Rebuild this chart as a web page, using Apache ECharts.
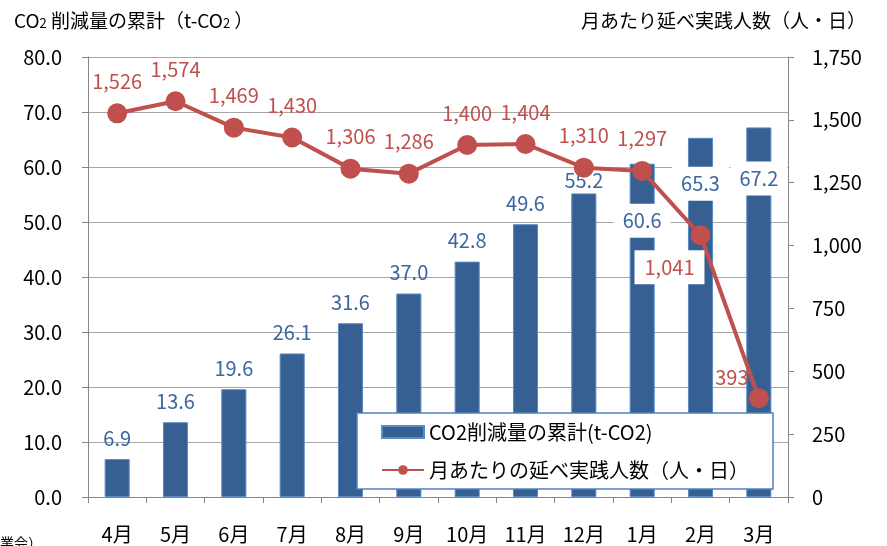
<!DOCTYPE html>
<html><head><meta charset="utf-8">
<script src="https://cdn.jsdelivr.net/npm/echarts@6/dist/echarts.min.js"></script>
<style>html,body{margin:0;padding:0;background:#fff}#c{width:887px;height:546px}</style>
</head><body><div id="c"></div>
<script>
const categories = ['4月','5月','6月','7月','8月','9月','10月','11月','12月','1月','2月','3月'];
const co2Cumulative = [6.9, 13.6, 19.6, 26.1, 31.6, 37.0, 42.8, 49.6, 55.2, 60.6, 65.3, 67.2];
const personDays = [1526, 1574, 1469, 1430, 1306, 1286, 1400, 1404, 1310, 1297, 1041, 393];
const leftTicks = [0, 80, 10];
const rightTicks = [0, 1750, 250];

const FONT = '"Noto Sans CJK JP", "Noto Sans", sans-serif';
const BLUE = '#376092', RED = '#c0504d', LBLUE = '#3b66a0';

const barLabelAdj = {
  8: {position:['50%',-13]},
  9: {position:['50%',57], backgroundColor:'#fff', padding:[7,9]},
  10:{position:['50%',46], backgroundColor:'#fff', padding:[7,9]},
  11:{position:['50%',51], backgroundColor:'#fff', padding:[7,9]}
};
const lineLabelAdj = {
  10:{offset:[-31,32], backgroundColor:'#fff', padding:[7,10]},
  11:{offset:[-27,-21]}
};

const barData = co2Cumulative.map((v,i)=> barLabelAdj[i] ? {value:v, label:barLabelAdj[i]} : v);
const lineData = personDays.map((v,i)=> lineLabelAdj[i] ? {value:v, label:lineLabelAdj[i]} : v);

const chart = echarts.init(document.getElementById('c'));
chart.setOption({
  animation:false,
  textStyle:{fontFamily:FONT},
  grid:{left:88, right:99, top:57, bottom:49},
  title:[
    {left:9, top:6, text:'{a|CO}{s|2}{a| 削減量の累計（t-CO}{s|2}{a| ）}',
      textStyle:{rich:{a:{fontSize:19,fontWeight:'normal',fontFamily:FONT,color:'#000'},s:{fontSize:13,fontWeight:'normal',fontFamily:FONT,color:'#000',padding:[6,0,0,0]}}}},
    {right:16, top:6, text:'月あたり延べ実践人数（人・日）', textStyle:{fontSize:19,fontWeight:'normal',fontFamily:FONT,color:'#000'}}
  ],
  graphic:[
    {type:'text', left:0, top:536, style:{text:'業会）', fontSize:14, fontFamily:FONT, fill:'#000'}}
  ],
  legend:{
    orient:'vertical', left:357, top:413,
    backgroundColor:'#fff', borderColor:'#4f81bd', borderWidth:1.5, borderRadius:0,
    padding:[9,24,9,24], itemGap:18, itemWidth:42, itemHeight:12,
    textStyle:{fontSize:20, color:'#000', fontFamily:FONT},
    data:[{name:'CO2削減量の累計(t-CO2)', icon:'rect'}, {name:'月あたりの延べ実践人数（人・日）'}]
  },
  xAxis:{
    type:'category', data:categories,
    axisLine:{lineStyle:{color:'#868686', width:1}},
    axisTick:{show:true, alignWithLabel:false, length:6, lineStyle:{color:'#868686'}},
    axisLabel:{fontSize:20, color:'#000', margin:27, fontFamily:FONT}
  },
  yAxis:[
    {type:'value', min:leftTicks[0], max:leftTicks[1], interval:leftTicks[2],
     axisLine:{show:true, lineStyle:{color:'#868686'}},
     axisTick:{show:true, length:6, lineStyle:{color:'#868686'}},
     splitLine:{lineStyle:{color:'#a6a6a6', width:1}},
     axisLabel:{fontSize:20, color:'#000', margin:26, fontFamily:FONT, formatter:v=>v.toFixed(1)}},
    {type:'value', min:rightTicks[0], max:rightTicks[1], interval:rightTicks[2], position:'right',
     axisLine:{show:true, lineStyle:{color:'#868686'}},
     axisTick:{show:true, length:6, lineStyle:{color:'#868686'}},
     splitLine:{show:false},
     axisLabel:{fontSize:20, color:'#000', margin:24, fontFamily:FONT, formatter:v=>v.toLocaleString('en-US')}}
  ],
  series:[
    {name:'CO2削減量の累計(t-CO2)', type:'bar', data:barData, yAxisIndex:0,
     barCategoryGap:'57%',
     itemStyle:{color:BLUE, borderColor:'#5b8ac6', borderWidth:1},
     label:{show:true, position:['50%',-21], align:'center', verticalAlign:'middle', fontSize:20, color:LBLUE, fontFamily:FONT, formatter:p=>p.value.toFixed(1)}},
    {name:'月あたりの延べ実践人数（人・日）', type:'line', data:lineData, yAxisIndex:1,
     symbol:'circle', symbolSize:20, z:3,
     lineStyle:{color:RED, width:4}, itemStyle:{color:RED},
     label:{show:true, position:'inside', offset:[0,-32], align:'center', verticalAlign:'middle', fontSize:20, color:RED, fontFamily:FONT, formatter:p=>p.value.toLocaleString('en-US')}}
  ]
});
</script></body></html>
